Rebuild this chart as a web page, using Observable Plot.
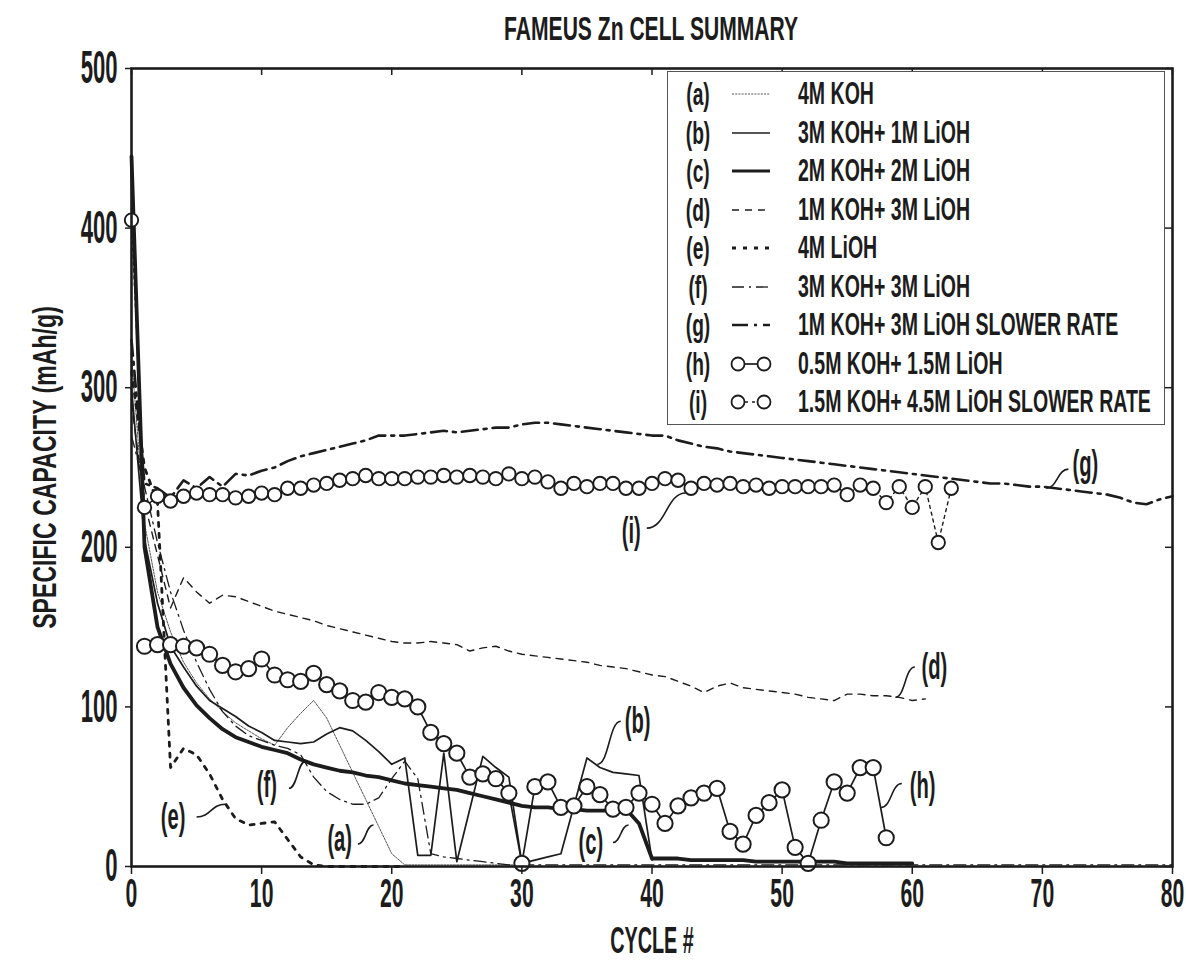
<!DOCTYPE html>
<html>
<head>
<meta charset="utf-8">
<script src="https://cdn.jsdelivr.net/npm/d3@7"></script>
<script src="https://cdn.jsdelivr.net/npm/@observablehq/plot@0.6"></script>
<style>
  body { margin: 0; background: #fff; }
  #wrap { position: relative; width: 1186px; height: 978px; font-family: "Liberation Sans", Arial, sans-serif; font-weight: bold; color: #1c1c1c; }
  #title { position: absolute; left: 131px; width: 1041px; top: 11px; text-align: center; font-size: 34px; line-height: 34px; }
  #title span { display: inline-block; transform: scaleX(0.62); }
  #legend { position: absolute; left: 667px; top: 71px; width: 498px; height: 354px; border: 1.5px solid #555; box-sizing: border-box; background: #fff; }
  .row { position: absolute; left: 0; height: 40px; width: 100%; }
  .key { position: absolute; display: block; left: 8px; top: 0; width: 44px; text-align: center; font-size: 32px; line-height: 40px; transform: scaleX(0.6); }
  .name { position: absolute; display: block; left: 130px; top: 0; font-size: 31px; line-height: 40px; white-space: nowrap; transform: scaleX(0.63); transform-origin: 0 50%; }
  .sample { position: absolute; left: 62px; top: 10px; }
</style>
</head>
<body>
<div id="wrap">
  <div id="chart"></div>
  <div id="title"><span></span></div>
  <div id="legend"></div>
</div>
<script>
// ---------------- data ----------------
const titleText = "FAMEUS Zn CELL SUMMARY";
const xLabel = "CYCLE #";
const yLabel = "SPECIFIC CAPACITY (mAh/g)";
const xTicks = [0, 10, 20, 30, 40, 50, 60, 70, 80];
const yTicks = [0, 100, 200, 300, 400, 500];

const seriesKeys = ["a", "b", "c", "d", "e", "f", "g", "h", "i"];
const seriesNames = [
  "4M KOH",
  "3M KOH+ 1M LiOH",
  "2M KOH+ 2M LiOH",
  "1M KOH+ 3M LiOH",
  "4M LiOH",
  "3M KOH+ 3M LiOH",
  "1M KOH+ 3M LiOH SLOWER RATE",
  "0.5M KOH+ 1.5M LiOH",
  "1.5M KOH+ 4.5M LiOH SLOWER RATE"
];

// (a) 4M KOH, cycles 0..30
const aY = [320, 215, 172, 147, 128, 115, 105, 97, 90, 85, 80, 76, 87, 96, 104, 93, 76, 59, 42, 25, 8, 1, 1, 1, 1, 1, 1, 1, 1, 1, 1];
// (b) 3M KOH + 1M LiOH
const bX = [0, 1, 2, 3, 4, 5, 6, 7, 8, 9, 10, 11, 12, 13, 14, 15, 16, 17, 18, 19, 20, 21, 22, 23, 24, 25, 27, 28, 29, 30, 31, 32, 33, 35, 36, 37, 38, 39, 40];
const bY = [300, 205, 165, 138, 125, 113, 104, 99, 94, 88, 84, 79, 78, 77, 78, 83, 87, 85, 79, 72, 64, 68, 7, 7, 71, 3, 69, 62, 56, 2, 4, 6, 8, 68, 62, 59, 58, 57, 4];
// (c) 2M KOH + 2M LiOH, cycles 0..60
const cY = [445, 200, 150, 127, 112, 101, 93, 86, 81, 78, 75, 73, 71, 67, 64, 62, 60, 59, 57, 56,
            54, 52, 51, 50, 49, 48, 46, 44, 42, 40, 38, 37, 37, 36, 36, 35, 35, 35, 36, 27,
            5, 5, 5, 4, 4, 4, 4, 4, 3, 3, 3, 3, 3, 3, 3, 2, 2, 2, 2, 2, 2];
// (d) 1M KOH + 3M LiOH, cycles 0..61
const dY = [290, 228, 195, 162, 181, 172, 165, 170, 169, 166, 163, 160, 158, 156, 154, 151, 149, 147, 145, 143,
            141, 140, 140, 141, 140, 139, 135, 137, 138, 135, 133, 132, 131, 130, 129, 128, 126, 125, 124, 122,
            120, 119, 116, 113, 109, 113, 115, 112, 111, 110, 109, 108, 106, 105, 104, 108, 108, 107, 107, 106,
            104, 105];
// (e) 4M LiOH, cycles 0..21
const eY = [310, 250, 228, 62, 74, 70, 58, 42, 30, 26, 27, 28, 17, 6, 1, 0, 0, 0, 0, 0, 0, 0];
// (f) 3M KOH + 3M LiOH, cycles 0..80
const fY = [270, 238, 203, 172, 148, 128, 111, 97, 88, 82, 79, 76, 74, 70, 56, 47, 42, 39, 39, 43,
            55, 66, 55, 8, 6, 5, 4, 3, 2, 1, 1, 1, 1, 1, 1, 1, 1, 1, 1, 1,
            1, 1, 1, 1, 1, 1, 1, 1, 1, 1, 1, 1, 1, 1, 1, 1, 1, 1, 1, 1,
            1, 1, 1, 1, 1, 1, 1, 1, 1, 1, 1, 1, 1, 1, 1, 1, 1, 1, 1, 1, 1];
// (g) 1M KOH + 3M LiOH slower rate, cycles 0..80
const gY = [330, 240, 237, 231, 242, 237, 244, 238, 246, 245, 248, 250, 254, 257, 259, 261, 263, 265, 267, 270,
            270, 270, 271, 272, 273, 272, 273, 274, 275, 275, 277, 278, 278, 277, 276, 275, 274, 273, 272, 271,
            270, 270, 267, 265, 263, 262, 260, 259, 258, 257, 256, 255, 254, 253, 252, 251, 250, 249, 248, 247,
            246, 245, 244, 243, 242, 241, 240, 240, 239, 238, 238, 237, 236, 235, 234, 233, 231, 228, 227, 230, 232];
// (h) 0.5M KOH + 1.5M LiOH, cycles 1..58
const hY = [138, 139, 139, 138, 137, 133, 126, 122, 124, 130, 120, 117, 116, 121, 114, 110, 104, 103, 109, 106,
            105, 100, 84, 77, 71, 56, 58, 55, 46, 2, 50, 53, 37, 38, 50, 45, 36, 37, 46, 39,
            27, 38, 43, 46, 49, 22, 14, 32, 40, 48, 12, 2, 29, 53, 46, 62, 62, 18];
// (i) 1.5M KOH + 4.5M LiOH slower rate, cycles 0..63
const iY = [405, 225, 232, 229, 232, 234, 233, 233, 231, 232, 234, 233, 237, 237, 239, 240, 242, 243, 245, 243,
            243, 243, 244, 244, 245, 244, 245, 244, 243, 246, 243, 244, 241, 237, 240, 238, 240, 240, 237, 237,
            240, 243, 242, 237, 240, 239, 240, 238, 239, 237, 238, 238, 238, 238, 239, 233, 239, 237, 228, 238,
            225, 238, 203, 237];

// curve annotations: label position and leader ends (data units)
const annLabels = ["(a)", "(b)", "(c)", "(d)", "(e)", "(f)", "(g)", "(h)", "(i)"];
const annX  = [16.0, 38.9, 35.3, 61.7, 3.2, 10.4, 73.3, 60.8, 38.4];
const annY  = [17, 91, 15, 125, 31, 51, 252, 50, 210];
const leadX1 = [17.4, 37.6, 37.0, 60.2, 5.0, 12.1, 72.0, 59.2, 39.6];
const leadY1 = [14, 91, 15, 125, 31, 49, 249, 52, 212];
const leadX2 = [18.6, 35.8, 38.2, 58.7, 7.2, 13.4, 70.3, 57.6, 42.6];
const leadY2 = [26, 64, 26, 106, 39, 66, 237, 37, 234];

// ---------------- styles ----------------
const ink = "#1c1c1c";
const styles = {
  a: {stroke: "#555", strokeWidth: 1, strokeDasharray: "2,1.2"},
  b: {stroke: ink, strokeWidth: 1.7},
  c: {stroke: ink, strokeWidth: 3.8},
  d: {stroke: ink, strokeWidth: 1.4, strokeDasharray: "7,6"},
  e: {stroke: ink, strokeWidth: 2.8, strokeDasharray: "4,7"},
  f: {stroke: ink, strokeWidth: 1.3, strokeDasharray: "12,5,2,5"},
  g: {stroke: ink, strokeWidth: 2.6, strokeDasharray: "16,6,3,6"},
  h: {stroke: ink, strokeWidth: 1.7},
  i: {stroke: ink, strokeWidth: 1.4, strokeDasharray: "3,4"}
};

// ---------------- build tables ----------------
const fromStart = (start, ys) => ys.map((y, k) => ({x: start + k, y}));
const tables = {
  a: fromStart(0, aY),
  b: bX.map((x, k) => ({x, y: bY[k]})),
  c: fromStart(0, cY),
  d: fromStart(0, dY),
  e: fromStart(0, eY),
  f: fromStart(0, fY),
  g: fromStart(0, gY),
  h: fromStart(1, hY),
  i: fromStart(0, iY)
};
const ann = annLabels.map((t, k) => ({t, x: annX[k], y: annY[k], x1: leadX1[k], y1: leadY1[k], x2: leadX2[k], y2: leadY2[k]}));

const lineMarks = ["a", "f", "e", "d", "b", "c", "g", "i", "h"].map(k =>
  Plot.line(tables[k], {x: "x", y: "y", ...styles[k], fill: "none", strokeLinejoin: "round"})
);

const plot = Plot.plot({
  width: 1186,
  height: 978,
  marginTop: 68,
  marginLeft: 131,
  marginRight: 14,
  marginBottom: 112,
  style: {fontFamily: "'Liberation Sans', Arial, sans-serif", fontWeight: "bold", color: ink, background: "#fff"},
  x: {domain: [0, 80], label: null},
  y: {domain: [0, 500], label: null},
  marks: [
    ...lineMarks,
    Plot.dot(tables.i, {x: "x", y: "y", r: 6.7, stroke: ink, strokeWidth: 1.9, fill: "white"}),
    Plot.dot(tables.h, {x: "x", y: "y", r: 7.6, stroke: ink, strokeWidth: 2, fill: "white"}),
    Plot.link(ann, {x1: "x1", y1: "y1", x2: "x2", y2: "y2", curve: "bump-x", stroke: ink, strokeWidth: 1.6}),
    Plot.text(ann, {x: "x", y: "y", text: "t", fontSize: 36, fill: ink}),
    Plot.frame({stroke: ink, strokeWidth: 2.6}),
    Plot.axisX({ticks: xTicks, tickSize: 8, tickPadding: 4, fontSize: 40, label: null, strokeWidth: 1.5}),
    Plot.axisY({ticks: yTicks, tickSize: 6, tickPadding: 8, fontSize: 46, label: null, strokeWidth: 1.5}),
    Plot.tickX(xTicks, {x: d => d, insetBottom: 791, stroke: ink, strokeWidth: 1.5}),
    Plot.tickY(yTicks, {y: d => d, insetLeft: 1034, stroke: ink, strokeWidth: 1.5}),
    Plot.text([yLabel], {frameAnchor: "left", textAnchor: "middle", dx: -86, rotate: -90, fontSize: 34, fill: ink}),
    Plot.text([xLabel], {frameAnchor: "bottom", textAnchor: "middle", dy: 86, fontSize: 36, fill: ink})
  ]
});

// condensed lettering, as in the reference
plot.querySelectorAll("text").forEach(t => {
  const tr = t.getAttribute("transform") || "";
  const s = t.textContent;
  const isX = xTicks.map(String).includes(s) && t.closest("g") && /x-axis/.test(t.closest("g").getAttribute("aria-label") || "");
  const sx = s === yLabel ? 0.68 : s === xLabel ? 0.55 : s.startsWith("(") ? 0.56 : isX ? 0.53 : 0.48;
  t.setAttribute("transform", tr + ` scale(${sx},1)`);
});
document.getElementById("chart").appendChild(plot);
document.querySelector("#title span").textContent = titleText;

// ---------------- legend ----------------
const legend = document.getElementById("legend");
seriesKeys.forEach((k, idx) => {
  const row = document.createElement("div");
  row.className = "row";
  row.style.top = (2 + idx * 38.5) + "px";
  const key = document.createElement("span");
  key.className = "key";
  key.textContent = "(" + k + ")";
  const name = document.createElement("span");
  name.className = "name";
  name.textContent = seriesNames[idx];
  const ns = "http://www.w3.org/2000/svg";
  const svg = document.createElementNS(ns, "svg");
  svg.setAttribute("class", "sample");
  svg.setAttribute("width", "44");
  svg.setAttribute("height", "20");
  const st = styles[k];
  const ln = document.createElementNS(ns, "line");
  ln.setAttribute("x1", (k === "h" || k === "i") ? 8 : 2);
  ln.setAttribute("x2", (k === "h" || k === "i") ? 34 : 40);
  ln.setAttribute("y1", 10); ln.setAttribute("y2", 10);
  ln.setAttribute("stroke", st.stroke);
  ln.setAttribute("stroke-width", Math.min(st.strokeWidth, 3));
  if (st.strokeDasharray) ln.setAttribute("stroke-dasharray", st.strokeDasharray);
  svg.appendChild(ln);
  if (k === "h" || k === "i") {
    [8, 34].forEach(cx => {
      const c = document.createElementNS(ns, "circle");
      c.setAttribute("cx", cx); c.setAttribute("cy", 10); c.setAttribute("r", 6.5);
      c.setAttribute("fill", "white"); c.setAttribute("stroke", ink); c.setAttribute("stroke-width", 1.8);
      svg.appendChild(c);
    });
  }
  row.appendChild(key); row.appendChild(svg); row.appendChild(name);
  legend.appendChild(row);
});
</script>
</body>
</html>
